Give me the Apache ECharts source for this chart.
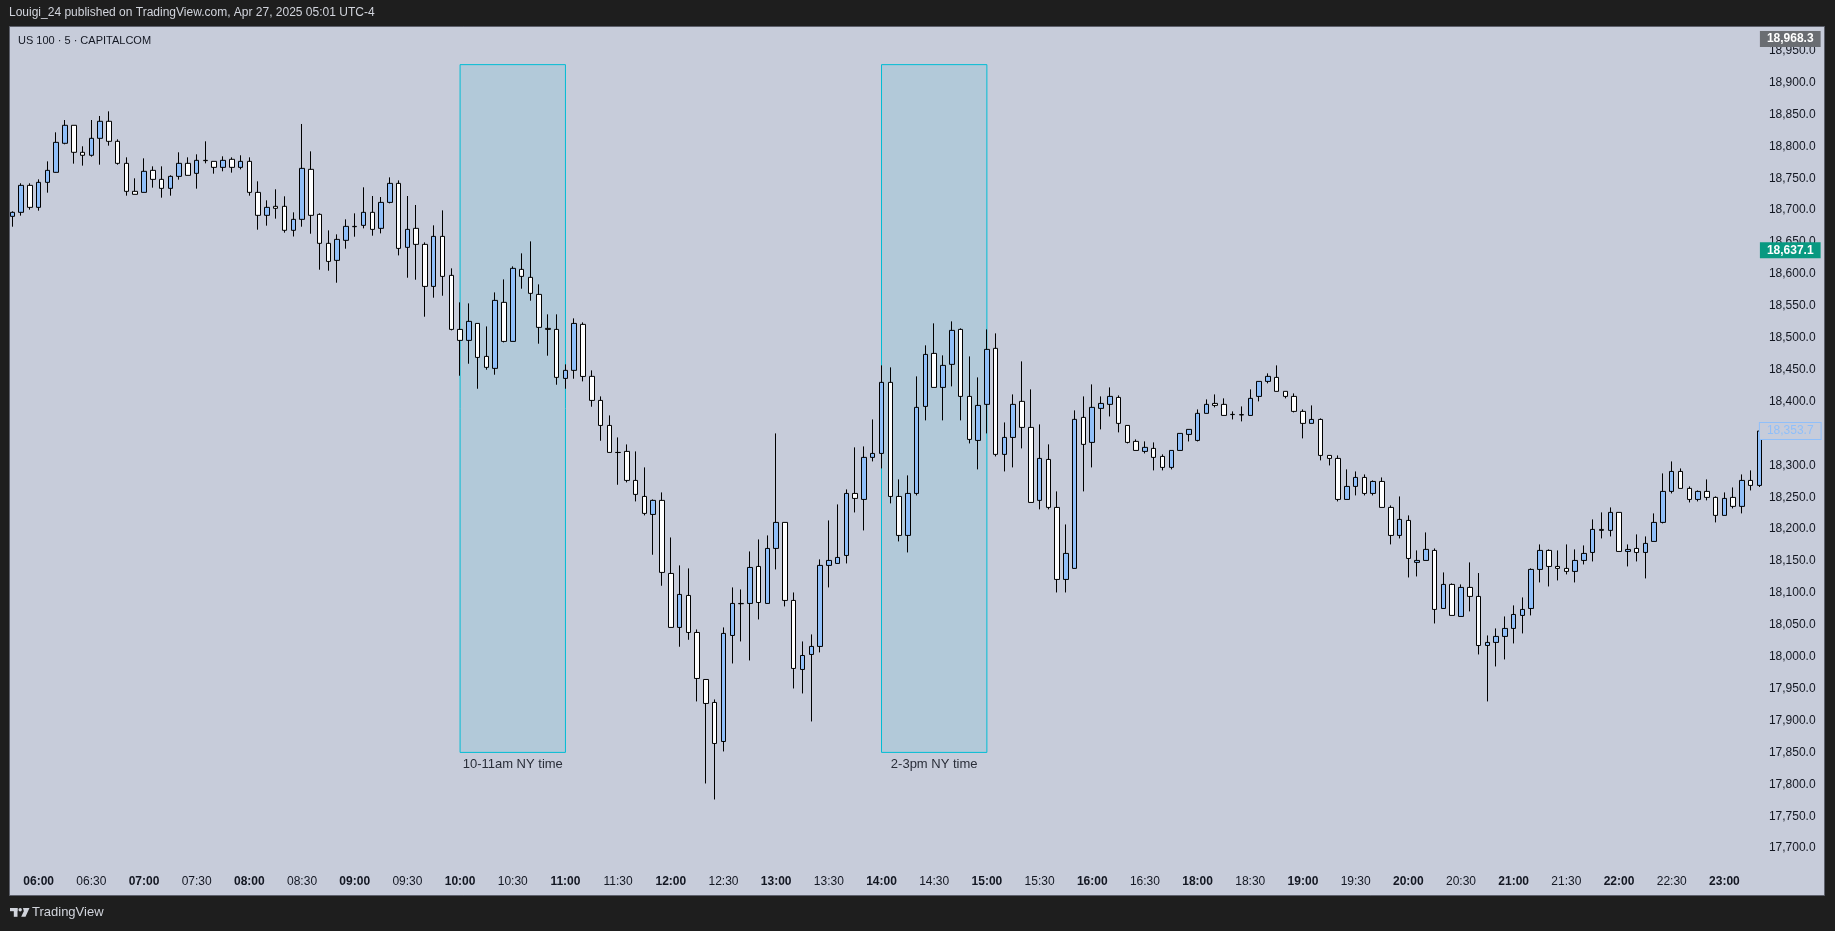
<!DOCTYPE html>
<html>
<head>
<meta charset="utf-8">
<style>
html,body{margin:0;padding:0;background:#1e1e1e;}
#chart{width:1835px;height:931px;}
</style>
<script src="https://cdn.jsdelivr.net/npm/echarts@6/dist/echarts.min.js"></script>
</head>
<body>
<div id="chart"></div>
<script>
// ---- tick labels of the time axis ----
const tickLabels = ['06:00','06:30','07:00','07:30','08:00','08:30','09:00','09:30','10:00','10:30','11:00','11:30','12:00','12:30','13:00','13:30','14:00','14:30','15:00','15:30','16:00','16:30','18:00','18:30','19:00','19:30','20:00','20:30','21:00','21:30','22:00','22:30','23:00'];

// ---- OHLC values (5-minute candles, 05:45 .. 23:20, 17:00-17:55 break) ----
const opens = [
18690.2,18696.5,18738.8,18704.3,18743.5,18759.2,18804.7,18832.9,18790.6,18785.9,
18812.5,18839.2,18807.8,18773.3,18729.4,18727.8,18762.3,18748.2,18734.1,18752.9,
18773.3,18757.6,18778.0,18776.4,18767.0,18779.6,18767.0,18776.4,18727.8,18691.8,
18705.9,18705.9,18668.3,18685.5,18763.9,18693.3,18647.9,18621.2,18652.6,18674.5,
18676.1,18696.5,18671.4,18712.1,18741.9,18641.6,18671.4,18646.3,18580.4,18658.8,
18597.7,18513.0,18495.8,18522.4,18470.7,18451.9,18555.4,18494.2,18607.1,18594.6,
18567.9,18514.6,18513.0,18436.2,18448.8,18520.9,18439.4,18401.7,18362.5,18320.2,
18321.8,18276.3,18251.2,18223.0,18245.0,18130.5,18045.9,18096.0,18038.0,17964.3,
17928.3,17867.1,18033.3,18083.5,18083.5,18141.5,18083.5,18169.7,18210.5,18088.2,
17980.0,18003.5,18016.1,18143.1,18146.2,18158.7,18255.9,18246.5,18312.4,18318.6,
18430.0,18251.2,18190.1,18255.9,18392.3,18475.4,18422.1,18458.2,18513.0,18408.0,
18339.0,18395.5,18483.3,18317.1,18343.7,18400.2,18359.4,18245.0,18309.2,18234.0,
18121.1,18138.4,18375.1,18335.9,18389.2,18395.5,18406.4,18362.5,18337.5,18321.8,
18326.5,18313.9,18296.7,18323.3,18348.4,18339.0,18381.4,18397.0,18395.5,18379.8,
18379.0,18378.2,18408.0,18431.5,18437.8,18415.9,18408.0,18384.5,18365.7,18371.9,
18315.5,18310.8,18246.5,18266.9,18281.0,18255.9,18274.7,18234.0,18190.1,18213.6,
18147.8,18150.9,18166.6,18075.6,18113.3,18063.1,18108.6,18094.5,18017.6,18022.4,
18031.8,18044.3,18064.7,18075.6,18136.8,18166.6,18141.5,18138.4,18133.7,18150.9,
18163.4,18199.5,18198.0,18226.2,18165.0,18169.7,18163.4,18180.7,18210.5,18259.1,
18290.4,18263.8,18246.5,18259.1,18249.7,18221.5,18249.7,18235.6,18276.3,18268.5
];
const highs = [
18698.1,18742.0,18742.0,18748.2,18776.4,18821.9,18841.2,18832.9,18800.0,18841.2,
18847.5,18854.8,18810.9,18782.7,18749.8,18781.1,18768.6,18768.6,18754.5,18790.6,
18782.7,18787.4,18807.8,18776.4,18784.3,18782.7,18785.9,18782.7,18745.1,18715.3,
18732.6,18721.6,18696.5,18835.0,18792.1,18694.9,18668.2,18662.0,18685.5,18694.9,
18735.7,18722.1,18720.5,18751.3,18746.6,18722.1,18708.0,18649.4,18676.1,18699.6,
18608.7,18555.4,18553.8,18522.4,18517.7,18571.0,18591.4,18611.8,18632.2,18651.0,
18583.6,18536.6,18536.6,18458.2,18530.3,18524.0,18448.8,18408.0,18378.2,18343.7,
18332.7,18321.8,18296.7,18246.5,18257.5,18186.9,18143.1,18138.4,18042.7,17964.3,
17933.0,18045.9,18108.6,18105.4,18165.0,18183.8,18190.1,18350.0,18210.5,18100.7,
18023.9,18034.9,18152.5,18213.6,18238.7,18262.2,18328.1,18329.6,18371.9,18456.6,
18453.5,18277.9,18284.2,18439.4,18488.0,18522.5,18472.3,18525.6,18514.6,18470.7,
18437.8,18513.0,18506.8,18367.2,18411.1,18462.9,18419.0,18364.1,18332.8,18259.1,
18207.3,18386.1,18408.0,18426.8,18408.0,18422.1,18409.6,18362.5,18340.6,18337.5,
18335.9,18317.1,18323.3,18350.0,18356.3,18387.6,18403.3,18411.1,18404.9,18384.5,
18392.3,18419.0,18431.5,18444.1,18456.6,18415.9,18412.7,18387.6,18393.9,18373.5,
18315.5,18315.5,18293.6,18290.4,18285.7,18276.3,18281.0,18237.1,18251.2,18221.5,
18166.6,18194.8,18169.7,18132.1,18114.8,18113.3,18147.8,18131.1,18033.3,18044.3,
18063.1,18080.4,18092.9,18138.4,18176.0,18168.2,18166.6,18176.0,18168.2,18174.4,
18215.2,18226.2,18234.0,18226.2,18176.0,18191.7,18188.5,18224.6,18287.3,18306.1,
18295.1,18266.9,18260.6,18277.9,18251.2,18257.5,18265.3,18285.7,18292.0,18353.7
];
const lows = [
18674.0,18691.3,18700.7,18699.1,18727.3,18758.7,18803.1,18772.8,18769.7,18783.8,
18771.2,18801.0,18771.2,18722.6,18724.7,18727.8,18735.2,18719.5,18722.6,18747.7,
18754.5,18733.6,18773.3,18757.1,18760.8,18758.7,18763.9,18722.6,18669.3,18675.6,
18686.6,18664.6,18658.6,18674.0,18663.0,18606.6,18605.0,18586.2,18639.5,18658.3,
18671.4,18659.9,18663.5,18710.6,18629.0,18594.0,18590.9,18532.9,18562.7,18565.8,
18511.5,18440.4,18459.2,18420.0,18449.8,18442.0,18492.6,18494.2,18576.8,18558.0,
18490.6,18471.8,18426.3,18420.0,18435.7,18431.5,18391.8,18338.5,18320.2,18269.5,
18273.2,18243.4,18221.5,18159.8,18111.2,18045.9,18015.6,18026.5,17929.9,17801.3,
17776.2,17851.5,17989.4,18023.9,17994.1,18058.4,18083.5,18136.8,18078.8,17950.2,
17942.4,17898.5,18006.7,18108.6,18146.2,18146.2,18226.1,18197.9,18306.1,18295.1,
18240.3,18180.7,18163.4,18252.8,18370.4,18422.1,18370.4,18423.7,18370.4,18334.3,
18293.6,18350.0,18313.9,18290.4,18296.7,18326.5,18241.8,18230.9,18230.9,18100.7,
18100.7,18138.4,18259.1,18296.7,18356.3,18376.6,18351.6,18334.3,18323.3,18318.6,
18292.0,18292.0,18293.6,18323.3,18337.4,18337.4,18381.4,18390.8,18378.2,18371.9,
18368.8,18378.2,18400.2,18428.4,18415.9,18404.9,18382.9,18342.2,18365.7,18307.7,
18299.8,18243.4,18246.5,18252.8,18252.8,18252.8,18234.0,18176.0,18185.4,18124.2,
18125.8,18150.9,18052.1,18075.6,18064.7,18063.1,18071.0,18003.5,17929.9,17984.7,
17995.7,18020.8,18036.5,18064.7,18116.4,18110.1,18119.5,18129.0,18116.4,18144.6,
18149.3,18185.4,18188.5,18165.0,18141.5,18149.3,18122.7,18180.7,18208.9,18255.9,
18263.8,18241.8,18243.4,18245.0,18210.5,18221.5,18232.4,18224.6,18260.6,18266.0
];
const closes = [
18696.5,18738.8,18704.3,18743.5,18762.3,18806.2,18832.9,18790.6,18785.9,18812.5,
18839.2,18807.8,18773.3,18729.4,18724.7,18760.8,18748.2,18734.1,18752.9,18773.3,
18754.5,18778.0,18777.5,18767.0,18778.0,18767.0,18776.4,18727.8,18691.8,18704.3,
18702.8,18668.3,18685.5,18765.4,18691.8,18647.9,18619.6,18654.1,18674.5,18674.0,
18696.5,18669.8,18712.1,18741.9,18640.0,18669.8,18646.3,18580.4,18658.8,18596.1,
18513.0,18495.8,18525.6,18469.1,18453.5,18558.5,18494.2,18608.7,18596.1,18569.5,
18516.2,18513.0,18437.8,18448.8,18522.4,18439.3,18401.7,18362.5,18320.2,18320.0,
18276.3,18254.4,18224.6,18245.0,18132.1,18045.9,18097.6,18038.0,17965.9,17926.7,
17864.0,18036.5,18083.5,18083.0,18139.9,18085.0,18169.7,18210.5,18088.2,17981.6,
18001.9,18016.1,18143.1,18150.9,18155.6,18255.9,18248.1,18312.4,18318.6,18430.0,
18251.2,18190.1,18255.9,18390.8,18473.8,18422.1,18456.6,18511.5,18408.0,18340.6,
18393.9,18481.7,18317.1,18343.7,18395.5,18359.4,18241.8,18310.8,18234.0,18121.1,
18161.9,18372.0,18332.8,18390.8,18397.0,18408.0,18365.7,18335.9,18323.3,18328.1,
18312.4,18296.7,18323.3,18350.0,18356.3,18381.4,18395.5,18393.9,18378.2,18379.5,
18379.4,18404.9,18431.5,18439.4,18415.9,18408.0,18384.5,18365.7,18371.9,18315.5,
18310.8,18246.5,18266.9,18281.0,18255.9,18274.7,18234.0,18190.1,18215.2,18154.0,
18150.9,18168.2,18074.1,18113.3,18064.7,18108.6,18094.5,18017.6,18022.4,18031.8,
18044.3,18066.2,18074.1,18136.8,18166.6,18141.5,18138.4,18133.7,18150.9,18161.9,
18199.5,18198.0,18226.2,18165.0,18168.1,18163.4,18177.6,18210.5,18259.1,18290.4,
18263.8,18246.5,18259.1,18249.7,18221.5,18248.1,18235.6,18276.3,18268.5,18353.7
];

// ---- highlighted sessions ----
const sessions = [
  {from: '10:00', to: '11:00', low: 17850, high: 18928, label: '10-11am NY time'},
  {from: '14:00', to: '15:00', low: 17850, high: 18928, label: '2-3pm NY time'}
];

// ---- price-scale tags ----
const tagHigh = 18968.3;
const tagGreen = 18637.1;
const tagLast = 18353.7;

// categories: 5-minute bars starting 05:45, skipping the 17:00 hour break
const times = [];
(function () {
  let m = 5 * 60 + 45;
  while (times.length < opens.length) {
    if (m >= 17 * 60 && m < 18 * 60) { m += 5; continue; }
    const h = Math.floor(m / 60), mm = m % 60;
    times.push(String(h).padStart(2, '0') + ':' + String(mm).padStart(2, '0'));
    m += 5;
  }
})();

const ohlc = opens.map((o, i) => [o, closes[i], lows[i], highs[i]]);
const fmt = v => Number(v).toLocaleString('en-US', {minimumFractionDigits: 1, maximumFractionDigits: 1});
const FONT = "'Liberation Sans', Arial, sans-serif";

const tag = (v, bg, fg, extra) => ({
  yAxis: v,
  lineStyle: {color: 'rgba(0,0,0,0)', opacity: 1, width: 1},
  label: Object.assign({show: true, position: 'end', distance: -4, formatter: fmt(v), opacity: 1,
    backgroundColor: bg, color: fg, fontSize: 12, fontFamily: FONT, fontWeight: 'bold',
    padding: [2, 7, 2, 7]}, extra || {})
});

const chart = echarts.init(document.getElementById('chart'), null, {renderer: 'canvas'});
chart.setOption({
  animation: false,
  backgroundColor: '#1e1e1e',
  textStyle: {fontFamily: FONT},
  graphic: [
    {type: 'rect', z: 0, shape: {x: 9.5, y: 26.5, width: 1815, height: 869},
     style: {fill: '#c7ccda', stroke: '#5d606b', lineWidth: 1}},
    {type: 'text', z: 0, left: 9, top: 7,
     style: {text: 'Louigi_24 published on TradingView.com, Apr 27, 2025 05:01 UTC-4', fill: '#d1d4dc', font: "12px 'Liberation Sans', Arial"}},
    {type: 'text', z: 3, left: 18, top: 35,
     style: {text: 'US 100 · 5 · CAPITALCOM', fill: '#131722', font: "11px 'Liberation Sans', Arial"}},
    {type: 'group', left: 10, top: 908, z: 3, children: [
      {type: 'rect', shape: {x: 0, y: 0, width: 7.5, height: 3.2}, style: {fill: '#d1d4dc'}},
      {type: 'rect', shape: {x: 3.8, y: 0, width: 3.7, height: 8.8}, style: {fill: '#d1d4dc'}},
      {type: 'circle', shape: {cx: 10.2, cy: 1.7, r: 1.7}, style: {fill: '#d1d4dc'}},
      {type: 'polygon', shape: {points: [[13, 0], [19.5, 0], [15.5, 8.8], [11.2, 8.8], [13.8, 3.2]]}, style: {fill: '#d1d4dc'}}
    ]},
    {type: 'text', z: 3, left: 32, top: 906,
     style: {text: 'TradingView', fill: '#d1d4dc', font: "13px 'Liberation Sans', Arial"}}
  ],
  grid: {left: 7.91, top: 18.7, width: 1756, height: 861.3, containLabel: false},
  xAxis: {
    type: 'category',
    data: times,
    boundaryGap: true,
    axisLine: {show: false},
    axisTick: {show: false},
    splitLine: {show: false},
    axisLabel: {
      interval: (idx, val) => tickLabels.includes(val),
      margin: -5,
      fontSize: 12,
      lineHeight: 14,
      color: '#131722',
      fontFamily: FONT,
      formatter: v => v.endsWith(':00') ? '{b|' + v + '}' : '{n|' + v + '}',
      rich: {
        b: {fontWeight: 'bold', fontSize: 12, color: '#131722', fontFamily: FONT},
        n: {fontSize: 12, color: '#131722', fontFamily: FONT}
      }
    }
  },
  yAxis: {
    type: 'value',
    position: 'right',
    min: 17650,
    max: 19000,
    interval: 50,
    axisLine: {show: false},
    axisTick: {show: false},
    splitLine: {show: false},
    axisLabel: {
      showMinLabel: false,
      showMaxLabel: false,
      margin: 5,
      fontSize: 12,
      color: '#131722',
      fontFamily: FONT,
      formatter: v => fmt(v)
    }
  },
  series: [
    {
      type: 'line',
      z: 1,
      data: [],
      silent: true,
      markArea: {
        silent: true,
        itemStyle: {color: '#b2c9d9', borderColor: '#00bcd4', borderWidth: 1},
        label: {show: true, position: 'bottom', distance: 5, color: '#2a2e39', fontSize: 13, fontFamily: FONT, formatter: '{b}'},
        data: sessions.map(s => [
          {name: s.label, xAxis: s.from, yAxis: s.high},
          {xAxis: s.to, yAxis: s.low}
        ])
      }
    },
    {
      type: 'candlestick',
      z: 2,
      data: ohlc,
      barWidth: 5,
      clip: false,
      itemStyle: {
        color: '#90bff9',
        color0: '#ffffff',
        borderColor: '#000000',
        borderColor0: '#000000',
        borderWidth: 1
      },
      markLine: {
        silent: true,
        animation: false,
        symbol: ['none', 'none'],
        lineStyle: {color: 'rgba(0,0,0,0)', width: 1, opacity: 1},
        label: {show: true},
        data: [
          tag(tagHigh, '#6a6d72', '#ffffff'),
          tag(tagGreen, '#089981', '#ffffff'),
          tag(tagLast, '#c7ccda', '#90bff9', {borderColor: '#90bff9', borderWidth: 1, fontWeight: 'normal'})
        ]
      }
    }
  ]
});
</script>
</body>
</html>
